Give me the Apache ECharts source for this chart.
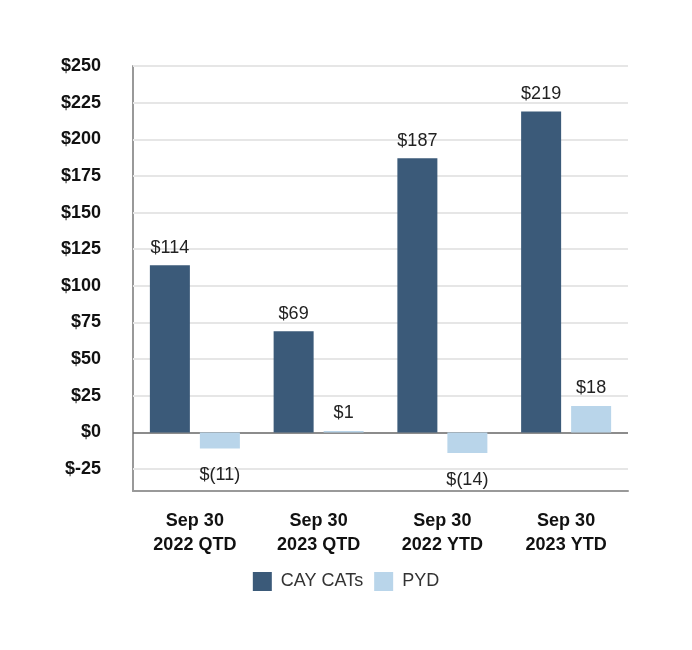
<!DOCTYPE html>
<html>
<head>
<meta charset="utf-8">
<script src="https://cdn.jsdelivr.net/npm/echarts@6/dist/echarts.min.js"></script>
<style>html,body{margin:0;padding:0;background:#fff}#c{width:692px;height:650px}</style>
</head>
<body>
<div id="c"></div>
<script>
var categories = ['Sep 30\n2022 QTD', 'Sep 30\n2023 QTD', 'Sep 30\n2022 YTD', 'Sep 30\n2023 YTD'];
var cayCats = [114, 69, 187, 219];
var pyd = [-11, 1, -14, 18];
var gridValues = [-25, 25, 50, 75, 100, 125, 150, 175, 200, 225, 250];
var yMin = -40, yMax = 250;

var fmt = function (v) { return v < 0 ? '$(' + (-v) + ')' : '$' + v; };
var font = '"Liberation Sans", Arial, sans-serif';

var chart = echarts.init(document.getElementById('c'));
chart.setOption({
  animation: false,
  textStyle: { fontFamily: font },
  grid: { left: 133, right: 64, top: 66, bottom: 159 },
  legend: {
    data: ['CAY CATs', 'PYD'],
    top: 567, left: 'center',
    icon: 'rect',
    itemWidth: 19, itemHeight: 19, itemGap: 11,
    textStyle: { fontSize: 18, color: '#333', fontFamily: font, padding: [0, 0, 0, 4] }
  },
  xAxis: {
    type: 'category',
    data: categories,
    axisLine: { onZero: false, lineStyle: { color: '#999', width: 2 } },
    axisTick: { show: false },
    axisLabel: { fontSize: 18, fontWeight: 'bold', color: '#111', lineHeight: 24, margin: 18, fontFamily: font }
  },
  yAxis: {
    type: 'value',
    min: yMin, max: yMax, interval: 5,
    axisLine: { show: true, lineStyle: { color: '#999', width: 2 } },
    axisTick: { show: false },
    splitLine: { show: false },
    axisLabel: {
      fontSize: 18, fontWeight: 'bold', color: '#111', margin: 32, fontFamily: font,
      formatter: function (v) { return (v % 25 === 0 && v >= -25) ? '$' + v : ''; }
    }
  },
  series: [
    {
      name: 'grid', type: 'line', data: [], zlevel: 0, z: 1, silent: true,
      markLine: {
        silent: true, symbol: 'none', label: { show: false },
        data: gridValues.map(function (v) { return { yAxis: v, lineStyle: { color: '#e6e6e6', width: 2, type: 'solid' } }; })
      }
    },
    {
      name: 'CAY CATs', type: 'bar', zlevel: 1, barWidth: 40, barGap: '25%',
      itemStyle: { color: '#3b5a79' },
      label: { show: true, position: 'top', distance: 8, fontSize: 18, color: '#222', formatter: function (p) { return fmt(p.value); } },
      data: cayCats,
      markLine: {
        silent: true, symbol: 'none', label: { show: false },
        data: [{ yAxis: 0, lineStyle: { color: '#666', width: 1.5, type: 'solid' } }]
      }
    },
    {
      name: 'PYD', type: 'bar', zlevel: 1, barWidth: 40,
      itemStyle: { color: '#b9d5ea' },
      label: { show: true, fontSize: 18, color: '#222', formatter: function (p) { return fmt(p.value); } },
      data: pyd.map(function (v) {
        return { value: v, label: { position: v < 0 ? 'bottom' : 'top', distance: v < 0 ? 18 : 9 } };
      })
    }
  ]
});
</script>
</body>
</html>
